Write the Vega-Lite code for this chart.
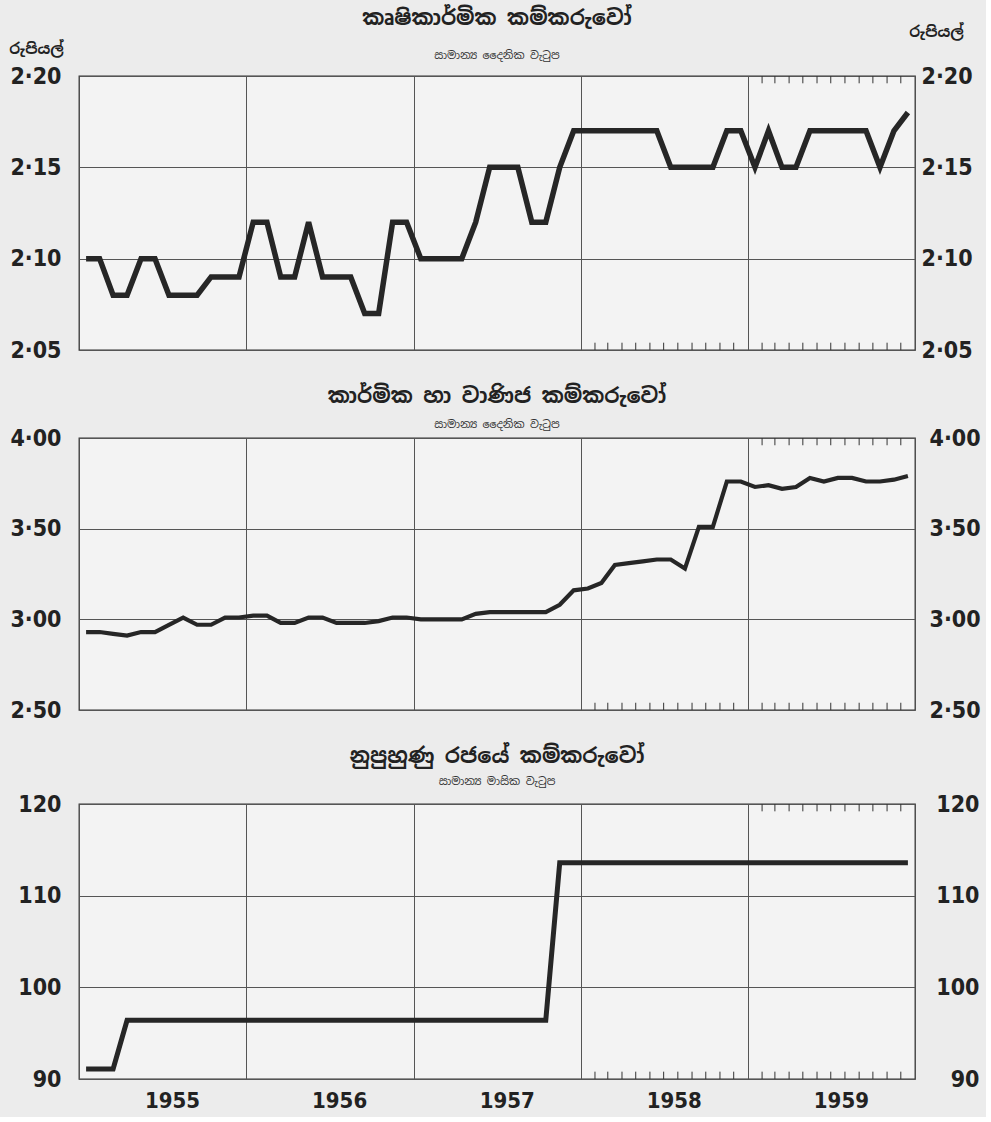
{
  "$schema": "https://vega.github.io/schema/vega-lite/v6.json",
  "background": "#ececec",
  "padding": {"left": 8, "top": 7, "right": 5, "bottom": 5},
  "config": {
    "view": {"stroke": "#333333", "strokeWidth": 1.3, "fill": "#f3f3f3"},
    "axis": {
      "gridColor": "#555555", "gridWidth": 1, "gridOpacity": 1,
      "labelFont": "DejaVu Sans Condensed, Liberation Sans Narrow, sans-serif",
      "labelFontWeight": "bold", "labelFontSize": 23, "labelColor": "#222222",
      "domain": false, "ticks": false, "labelFlush": false,
      "titleFont": "Noto Sans Sinhala, Noto Sans, sans-serif", "titleFontSize": 15, "titleFontWeight": "bold", "titleColor": "#222222"
    },
    "title": {
      "font": "Noto Sans Sinhala, Noto Sans, sans-serif", "fontSize": 21, "fontWeight": "bold", "color": "#222222",
      "subtitleFont": "Noto Sans Sinhala, Noto Sans, sans-serif", "subtitleFontSize": 11, "subtitleColor": "#333333",
      "anchor": "middle", "frame": "group"
    },
    "concat": {"spacing": 22}
  },
  "datasets": {
    "agri": [
      {"month":"1955-01","wage":2.10},{"month":"1955-02","wage":2.10},{"month":"1955-03","wage":2.08},{"month":"1955-04","wage":2.08},
      {"month":"1955-05","wage":2.10},{"month":"1955-06","wage":2.10},{"month":"1955-07","wage":2.08},{"month":"1955-08","wage":2.08},
      {"month":"1955-09","wage":2.08},{"month":"1955-10","wage":2.09},{"month":"1955-11","wage":2.09},{"month":"1955-12","wage":2.09},
      {"month":"1956-01","wage":2.12},{"month":"1956-02","wage":2.12},{"month":"1956-03","wage":2.09},{"month":"1956-04","wage":2.09},
      {"month":"1956-05","wage":2.12},{"month":"1956-06","wage":2.09},{"month":"1956-07","wage":2.09},{"month":"1956-08","wage":2.09},
      {"month":"1956-09","wage":2.07},{"month":"1956-10","wage":2.07},{"month":"1956-11","wage":2.12},{"month":"1956-12","wage":2.12},
      {"month":"1957-01","wage":2.10},{"month":"1957-02","wage":2.10},{"month":"1957-03","wage":2.10},{"month":"1957-04","wage":2.10},
      {"month":"1957-05","wage":2.12},{"month":"1957-06","wage":2.15},{"month":"1957-07","wage":2.15},{"month":"1957-08","wage":2.15},
      {"month":"1957-09","wage":2.12},{"month":"1957-10","wage":2.12},{"month":"1957-11","wage":2.15},{"month":"1957-12","wage":2.17},
      {"month":"1958-01","wage":2.17},{"month":"1958-02","wage":2.17},{"month":"1958-03","wage":2.17},{"month":"1958-04","wage":2.17},
      {"month":"1958-05","wage":2.17},{"month":"1958-06","wage":2.17},{"month":"1958-07","wage":2.15},{"month":"1958-08","wage":2.15},
      {"month":"1958-09","wage":2.15},{"month":"1958-10","wage":2.15},{"month":"1958-11","wage":2.17},{"month":"1958-12","wage":2.17},
      {"month":"1959-01","wage":2.15},{"month":"1959-02","wage":2.17},{"month":"1959-03","wage":2.15},{"month":"1959-04","wage":2.15},
      {"month":"1959-05","wage":2.17},{"month":"1959-06","wage":2.17},{"month":"1959-07","wage":2.17},{"month":"1959-08","wage":2.17},
      {"month":"1959-09","wage":2.17},{"month":"1959-10","wage":2.15},{"month":"1959-11","wage":2.17},{"month":"1959-12","wage":2.18}
    ],
    "ind": [
      {"month":"1955-01","wage":2.93},{"month":"1955-02","wage":2.93},{"month":"1955-03","wage":2.92},{"month":"1955-04","wage":2.91},
      {"month":"1955-05","wage":2.93},{"month":"1955-06","wage":2.93},{"month":"1955-07","wage":2.97},{"month":"1955-08","wage":3.01},
      {"month":"1955-09","wage":2.97},{"month":"1955-10","wage":2.97},{"month":"1955-11","wage":3.01},{"month":"1955-12","wage":3.01},
      {"month":"1956-01","wage":3.02},{"month":"1956-02","wage":3.02},{"month":"1956-03","wage":2.98},{"month":"1956-04","wage":2.98},
      {"month":"1956-05","wage":3.01},{"month":"1956-06","wage":3.01},{"month":"1956-07","wage":2.98},{"month":"1956-08","wage":2.98},
      {"month":"1956-09","wage":2.98},{"month":"1956-10","wage":2.99},{"month":"1956-11","wage":3.01},{"month":"1956-12","wage":3.01},
      {"month":"1957-01","wage":3.00},{"month":"1957-02","wage":3.00},{"month":"1957-03","wage":3.00},{"month":"1957-04","wage":3.00},
      {"month":"1957-05","wage":3.03},{"month":"1957-06","wage":3.04},{"month":"1957-07","wage":3.04},{"month":"1957-08","wage":3.04},
      {"month":"1957-09","wage":3.04},{"month":"1957-10","wage":3.04},{"month":"1957-11","wage":3.08},{"month":"1957-12","wage":3.16},
      {"month":"1958-01","wage":3.17},{"month":"1958-02","wage":3.20},{"month":"1958-03","wage":3.30},{"month":"1958-04","wage":3.31},
      {"month":"1958-05","wage":3.32},{"month":"1958-06","wage":3.33},{"month":"1958-07","wage":3.33},{"month":"1958-08","wage":3.28},
      {"month":"1958-09","wage":3.51},{"month":"1958-10","wage":3.51},{"month":"1958-11","wage":3.76},{"month":"1958-12","wage":3.76},
      {"month":"1959-01","wage":3.73},{"month":"1959-02","wage":3.74},{"month":"1959-03","wage":3.72},{"month":"1959-04","wage":3.73},
      {"month":"1959-05","wage":3.78},{"month":"1959-06","wage":3.76},{"month":"1959-07","wage":3.78},{"month":"1959-08","wage":3.78},
      {"month":"1959-09","wage":3.76},{"month":"1959-10","wage":3.76},{"month":"1959-11","wage":3.77},{"month":"1959-12","wage":3.79}
    ],
    "gov": [
      {"month":"1955-01","wage":91.1},{"month":"1955-02","wage":91.1},{"month":"1955-03","wage":91.1},{"month":"1955-04","wage":96.4},
      {"month":"1955-05","wage":96.4},{"month":"1955-06","wage":96.4},{"month":"1955-07","wage":96.4},{"month":"1955-08","wage":96.4},
      {"month":"1955-09","wage":96.4},{"month":"1955-10","wage":96.4},{"month":"1955-11","wage":96.4},{"month":"1955-12","wage":96.4},
      {"month":"1956-01","wage":96.4},{"month":"1956-02","wage":96.4},{"month":"1956-03","wage":96.4},{"month":"1956-04","wage":96.4},
      {"month":"1956-05","wage":96.4},{"month":"1956-06","wage":96.4},{"month":"1956-07","wage":96.4},{"month":"1956-08","wage":96.4},
      {"month":"1956-09","wage":96.4},{"month":"1956-10","wage":96.4},{"month":"1956-11","wage":96.4},{"month":"1956-12","wage":96.4},
      {"month":"1957-01","wage":96.4},{"month":"1957-02","wage":96.4},{"month":"1957-03","wage":96.4},{"month":"1957-04","wage":96.4},
      {"month":"1957-05","wage":96.4},{"month":"1957-06","wage":96.4},{"month":"1957-07","wage":96.4},{"month":"1957-08","wage":96.4},
      {"month":"1957-09","wage":96.4},{"month":"1957-10","wage":96.4},{"month":"1957-11","wage":113.6},{"month":"1957-12","wage":113.6},
      {"month":"1958-01","wage":113.6},{"month":"1958-02","wage":113.6},{"month":"1958-03","wage":113.6},{"month":"1958-04","wage":113.6},
      {"month":"1958-05","wage":113.6},{"month":"1958-06","wage":113.6},{"month":"1958-07","wage":113.6},{"month":"1958-08","wage":113.6},
      {"month":"1958-09","wage":113.6},{"month":"1958-10","wage":113.6},{"month":"1958-11","wage":113.6},{"month":"1958-12","wage":113.6},
      {"month":"1959-01","wage":113.6},{"month":"1959-02","wage":113.6},{"month":"1959-03","wage":113.6},{"month":"1959-04","wage":113.6},
      {"month":"1959-05","wage":113.6},{"month":"1959-06","wage":113.6},{"month":"1959-07","wage":113.6},{"month":"1959-08","wage":113.6},
      {"month":"1959-09","wage":113.6},{"month":"1959-10","wage":113.6},{"month":"1959-11","wage":113.6},{"month":"1959-12","wage":113.6}
    ],
    "ticksBottom": [
      {"month":"1958-02"},{"month":"1958-03"},{"month":"1958-04"},{"month":"1958-05"},{"month":"1958-06"},{"month":"1958-07"},
      {"month":"1958-08"},{"month":"1958-09"},{"month":"1958-10"},{"month":"1958-11"},{"month":"1958-12"},
      {"month":"1959-02"},{"month":"1959-03"},{"month":"1959-04"},{"month":"1959-05"},{"month":"1959-06"},{"month":"1959-07"},
      {"month":"1959-08"},{"month":"1959-09"},{"month":"1959-10"},{"month":"1959-11"},{"month":"1959-12"}
    ],
    "ticksTop": [
      {"month":"1959-02"},{"month":"1959-03"},{"month":"1959-04"},{"month":"1959-05"},{"month":"1959-06"},{"month":"1959-07"},
      {"month":"1959-08"},{"month":"1959-09"},{"month":"1959-10"},{"month":"1959-11"},{"month":"1959-12"}
    ]
  },
  "vconcat": [
    {
      "width": 836, "height": 274,
      "title": {"text": "කෘෂිකාර්මික කම්කරුවෝ", "subtitle": "සාමාන්‍ය දෛනික වැටුප", "subtitlePadding": 21, "offset": -37},
      "layer": [
        {
          "data": {"name": "agri"},
          "mark": {"type": "line", "color": "#262626", "strokeWidth": 5.5, "strokeJoin": "miter"},
          "encoding": {
            "x": {"field": "month", "type": "temporal", "timeUnit": "utcyearmonth", "bandPosition": 0.5,
                  "scale": {"domain": [{"year":1955,"month":1,"date":1,"utc":true},{"year":1960,"month":1,"date":1,"utc":true}]},
                  "axis": {"values": [{"year":1956,"month":1,"date":1,"utc":true},{"year":1957,"month":1,"date":1,"utc":true},{"year":1958,"month":1,"date":1,"utc":true},{"year":1959,"month":1,"date":1,"utc":true}],
                           "labels": false, "grid": true, "title": null}},
            "y": {"field": "wage", "type": "quantitative", "scale": {"domain": [2.05, 2.20], "zero": false, "nice": false},
                  "axis": {"values": [2.05, 2.10, 2.15, 2.20], "grid": true, "labelPadding": 18,
                           "labelExpr": "replace(format(datum.value, '.2f'), '.', '·')",
                           "title": "රුපියල්", "titleAngle": 0, "titleAlign": "center", "titleBaseline": "middle", "titleX": -43, "titleY": -28}}
          }
        },
        {
          "data": {"name": "agri"},
          "mark": {"type": "line", "opacity": 0},
          "encoding": {
            "x": {"field": "month", "type": "temporal", "timeUnit": "utcyearmonth", "bandPosition": 0.5},
            "y": {"field": "wage", "type": "quantitative",
                  "axis": {"orient": "right", "values": [2.05, 2.10, 2.15, 2.20], "grid": false, "labelPadding": 6,
                           "labelExpr": "replace(format(datum.value, '.2f'), '.', '·')",
                           "title": "රුපියල්", "titleAngle": 0, "titleAlign": "center", "titleBaseline": "middle", "titleX": 21, "titleY": -45}}
          }
        },
        {
          "data": {"name": "ticksBottom"},
          "mark": {"type": "rule", "color": "#333333", "strokeWidth": 1},
          "encoding": {
            "x": {"field": "month", "type": "temporal", "timeUnit": "utcyearmonth"},
            "y": {"datum": 2.05, "axis": null},
            "y2": {"datum": 2.054}
          }
        },
        {
          "data": {"name": "ticksTop"},
          "mark": {"type": "rule", "color": "#333333", "strokeWidth": 1},
          "encoding": {
            "x": {"field": "month", "type": "temporal", "timeUnit": "utcyearmonth"},
            "y": {"datum": 2.20, "axis": null},
            "y2": {"datum": 2.196}
          }
        }
      ],
      "resolve": {"axis": {"y": "independent"}}
    },
    {
      "width": 836, "height": 272,
      "title": {"text": "කාර්මික හා වාණිජ කම්කරුවෝ", "subtitle": "සාමාන්‍ය දෛනික වැටුප", "subtitlePadding": 12, "offset": -3},
      "layer": [
        {
          "data": {"name": "ind"},
          "mark": {"type": "line", "color": "#262626", "strokeWidth": 4.2, "strokeJoin": "miter"},
          "encoding": {
            "x": {"field": "month", "type": "temporal", "timeUnit": "utcyearmonth", "bandPosition": 0.5,
                  "scale": {"domain": [{"year":1955,"month":1,"date":1,"utc":true},{"year":1960,"month":1,"date":1,"utc":true}]},
                  "axis": {"values": [{"year":1956,"month":1,"date":1,"utc":true},{"year":1957,"month":1,"date":1,"utc":true},{"year":1958,"month":1,"date":1,"utc":true},{"year":1959,"month":1,"date":1,"utc":true}],
                           "labels": false, "grid": true, "title": null}},
            "y": {"field": "wage", "type": "quantitative", "scale": {"domain": [2.5, 4.0], "zero": false, "nice": false},
                  "axis": {"values": [2.5, 3.0, 3.5, 4.0], "grid": true, "labelPadding": 18,
                           "labelExpr": "replace(format(datum.value, '.2f'), '.', '·')", "title": null}}
          }
        },
        {
          "data": {"name": "ind"},
          "mark": {"type": "line", "opacity": 0},
          "encoding": {
            "x": {"field": "month", "type": "temporal", "timeUnit": "utcyearmonth", "bandPosition": 0.5},
            "y": {"field": "wage", "type": "quantitative",
                  "axis": {"orient": "right", "values": [2.5, 3.0, 3.5, 4.0], "grid": false, "labelPadding": 14,
                           "labelExpr": "replace(format(datum.value, '.2f'), '.', '·')", "title": null}}
          }
        },
        {
          "data": {"name": "ticksBottom"},
          "mark": {"type": "rule", "color": "#333333", "strokeWidth": 1},
          "encoding": {
            "x": {"field": "month", "type": "temporal", "timeUnit": "utcyearmonth"},
            "y": {"datum": 2.5, "axis": null},
            "y2": {"datum": 2.54}
          }
        },
        {
          "data": {"name": "ticksTop"},
          "mark": {"type": "rule", "color": "#333333", "strokeWidth": 1},
          "encoding": {
            "x": {"field": "month", "type": "temporal", "timeUnit": "utcyearmonth"},
            "y": {"datum": 4.0, "axis": null},
            "y2": {"datum": 3.96}
          }
        }
      ],
      "resolve": {"axis": {"y": "independent"}}
    },
    {
      "width": 836, "height": 275,
      "title": {"text": "නුපුහුණු රජයේ කම්කරුවෝ", "subtitle": "සාමාන්‍ය මාසික වැටුප", "subtitlePadding": 9, "offset": 6},
      "layer": [
        {
          "data": {"name": "gov"},
          "mark": {"type": "line", "color": "#262626", "strokeWidth": 5, "strokeJoin": "miter"},
          "encoding": {
            "x": {"field": "month", "type": "temporal", "timeUnit": "utcyearmonth", "bandPosition": 0.5,
                  "scale": {"domain": [{"year":1955,"month":1,"date":1,"utc":true},{"year":1960,"month":1,"date":1,"utc":true}]},
                  "axis": {"values": [{"year":1955,"month":1,"date":1,"utc":true},{"year":1956,"month":1,"date":1,"utc":true},{"year":1957,"month":1,"date":1,"utc":true},{"year":1958,"month":1,"date":1,"utc":true},{"year":1959,"month":1,"date":1,"utc":true}],
                           "labels": true, "labelExpr": "utcFormat(datum.value, '%Y')", "labelOffset": 93, "labelPadding": 11, "labelFontSize": 22,
                           "labelFlush": false, "labelOverlap": false, "grid": true, "title": null}},
            "y": {"field": "wage", "type": "quantitative", "scale": {"domain": [90, 120], "zero": false, "nice": false},
                  "axis": {"values": [90, 100, 110, 120], "grid": true, "labelPadding": 18, "format": "d", "title": null}}
          }
        },
        {
          "data": {"name": "gov"},
          "mark": {"type": "line", "opacity": 0},
          "encoding": {
            "x": {"field": "month", "type": "temporal", "timeUnit": "utcyearmonth", "bandPosition": 0.5},
            "y": {"field": "wage", "type": "quantitative",
                  "axis": {"orient": "right", "values": [90, 100, 110, 120], "grid": false, "labelPadding": 64, "labelAlign": "right", "format": "d", "title": null}}
          }
        },
        {
          "data": {"name": "ticksBottom"},
          "mark": {"type": "rule", "color": "#333333", "strokeWidth": 1},
          "encoding": {
            "x": {"field": "month", "type": "temporal", "timeUnit": "utcyearmonth"},
            "y": {"datum": 90, "axis": null},
            "y2": {"datum": 90.8}
          }
        },
        {
          "data": {"name": "ticksTop"},
          "mark": {"type": "rule", "color": "#333333", "strokeWidth": 1},
          "encoding": {
            "x": {"field": "month", "type": "temporal", "timeUnit": "utcyearmonth"},
            "y": {"datum": 120, "axis": null},
            "y2": {"datum": 119.2}
          }
        }
      ],
      "resolve": {"axis": {"y": "independent"}}
    }
  ]
}
